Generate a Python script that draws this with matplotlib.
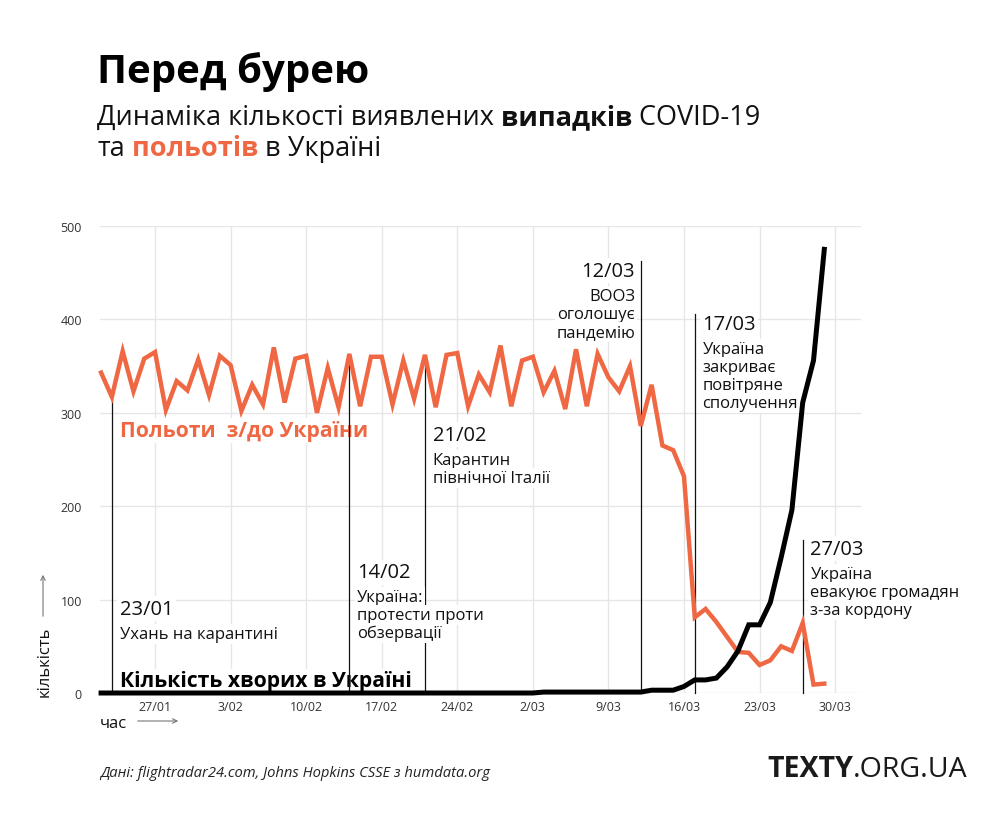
import matplotlib
matplotlib.use("Agg")
import matplotlib.pyplot as plt
import matplotlib.dates as mdates
import pandas as pd

plt.rcParams['font.family'] = ['Open Sans', 'DejaVu Sans']

ORANGE = '#EF6843'
W, H = 1000, 829

# Data
dates = pd.date_range('2020-01-22', '2020-03-29', freq='D')
flights = [343, 317, 366, 323, 358, 365, 303, 334, 324, 357,
           319, 361, 351, 302, 330, 309, 370, 311, 358, 361,
           300, 348, 306, 363, 307, 360, 360, 309, 356, 315,
           362, 306, 362, 364, 307, 341, 322, 372, 307,
           356, 360, 322, 345, 304, 368, 307, 363, 338, 323,
           350, 286, 330, 265, 260, 232, 81, 90, 76, 60,
           44, 43, 30, 35, 50, 45, 75, 9, 10]
cases = [0, 0, 0, 0, 0, 0, 0, 0, 0, 0,
         0, 0, 0, 0, 0, 0, 0, 0, 0, 0,
         0, 0, 0, 0, 0, 0, 0, 0, 0, 0,
         0, 0, 0, 0, 0, 0, 0, 0, 0,
         0, 0, 1, 1, 1, 1, 1, 1, 1, 1,
         1, 1, 3, 3, 3, 7, 14, 14, 16, 28,
         45, 73, 73, 97, 145, 196, 311, 356, 475]

tick_dates = pd.to_datetime(['2020-01-27', '2020-02-03', '2020-02-10', '2020-02-17',
                             '2020-02-24', '2020-03-02', '2020-03-09', '2020-03-16',
                             '2020-03-23', '2020-03-30'])
tick_labels = ['27/01', '3/02', '10/02', '17/02', '24/02', '2/03', '9/03', '16/03',
               '23/03', '30/03']
y_ticks = [0, 100, 200, 300, 400, 500]

event_dates = ['2020-01-23', '2020-02-14', '2020-02-21', '2020-03-12', '2020-03-17', '2020-03-27']
event_titles = ['23/01', '14/02', '21/02', '12/03', '17/03', '27/03']
event_texts = [['Ухань на карантині'],
               ['Україна:', 'протести проти', 'обзервації'],
               ['Карантин', 'північної Італії'],
               ['ВООЗ', 'оголошує', 'пандемію'],
               ['Україна', 'закриває', 'повітряне', 'сполучення'],
               ['Україна', 'евакуює громадян', 'з-за кордону']]

# layout of events: line top (None = on the flights curve), title baseline, side
event_layout = [(None, 85, 'left'), (None, 124, 'left'), (None, 271, 'left'),
                (462, 447, 'right'), (406, 390, 'left'), (164, 149, 'left')]

x = mdates.date2num(dates)

fig = plt.figure(figsize=(W / 100, H / 100), dpi=100)
ax = fig.add_axes([100 / W, 135 / H, 761 / W, 467 / H])

ax.plot(x, flights, color=ORANGE, lw=3.2, zorder=4, clip_on=False,
        solid_joinstyle='miter')
ax.plot(x, cases, color='black', lw=3.6, zorder=5, clip_on=False,
        solid_joinstyle='miter')

ax.set_xlim(x[0] - 0.1, x[0] + 70.4)
ax.set_ylim(0, 500)
ax.set_xticks(mdates.date2num(tick_dates))
ax.set_xticklabels(tick_labels)
ax.set_yticks(y_ticks)
ax.tick_params(length=0, labelsize=9, labelcolor='#333333')
ax.tick_params(axis='y', pad=13)
ax.tick_params(axis='x', pad=5)
ax.grid(True, color='#e6e6e6', lw=1)
ax.set_axisbelow(True)
for s in ax.spines.values():
    s.set_visible(False)

box = dict(boxstyle='square,pad=0.12', fc='white', ec='none')

flight_at = dict(zip(dates, flights))
for d, title, body, (top, ty, side) in zip(event_dates, event_titles, event_texts, event_layout):
    d = pd.Timestamp(d)
    xe = mdates.date2num(d)
    if top is None:
        top = flight_at[d]
    ax.plot([xe, xe], [0, top], color='#111111', lw=0.9, zorder=2, clip_on=False)
    dx = 5.5 if side == 'left' else -4
    ax.annotate(title, xy=(xe, ty), xytext=(dx, 0), textcoords='offset points',
                ha=side, va='baseline', fontsize=14.5, color='#111111',
                zorder=3, bbox=box, annotation_clip=False)
    for i, line in enumerate(body):
        ax.annotate(line, xy=(xe, ty), xytext=(dx, -17.3 - 13 * i),
                    textcoords='offset points', ha=side, va='baseline',
                    fontsize=12, color='#111111', zorder=3, bbox=box,
                    annotation_clip=False)

lbox = dict(boxstyle='square,pad=0.08', fc='white', ec='none')
ax.annotate('Польоти  з/до України', xy=(x[1], 275), xytext=(5.5, 0),
            textcoords='offset points', ha='left', va='baseline', fontsize=15.2,
            fontweight='bold', color=ORANGE, zorder=1.5, bbox=lbox)
ax.annotate('Кількість хворих в Україні', xy=(x[1], 7), xytext=(5.5, 0),
            textcoords='offset points', ha='left', va='baseline', fontsize=15.2,
            fontweight='bold', color='black', zorder=1.5, bbox=lbox)


def fx(px):
    return px / W


def fy(py):
    return 1 - py / H


# axis captions with arrows
fig.text(fx(45), fy(697), 'кількість', rotation=90, ha='center', va='bottom',
         fontsize=12, color='#111111')
fig.text(fx(100), fy(728), 'час', ha='left', va='baseline', fontsize=12,
         color='#111111')
arrow = dict(arrowstyle='->', lw=0.8, color='#777777', mutation_scale=8)
ax.annotate('', xy=(fx(43), fy(573)), xytext=(fx(43), fy(620)),
            xycoords='figure fraction', textcoords='figure fraction', arrowprops=arrow)
ax.annotate('', xy=(fx(181), fy(722)), xytext=(fx(135), fy(722)),
            xycoords='figure fraction', textcoords='figure fraction', arrowprops=arrow)

renderer = fig.canvas.get_renderer()


def rich_line(px, py, parts, size):
    cur = px
    for s, weight, color in parts:
        t = fig.text(fx(cur), fy(py), s, fontsize=size, fontweight=weight,
                     color=color, ha='left', va='baseline')
        bb = t.get_window_extent(renderer)
        cur += bb.width


fig.text(fx(97), fy(83), 'Перед бурею', fontsize=29, fontweight='bold',
         color='black', ha='left', va='baseline')
rich_line(97, 125, [('Динаміка кількості виявлених', 'normal', '#111111'),
                    (' випадків', 'bold', '#111111'),
                    (' COVID-19', 'normal', '#111111')], 19.5)
rich_line(97, 156, [('та', 'normal', '#111111'),
                    (' польотів', 'bold', ORANGE),
                    (' в Україні', 'normal', '#111111')], 19.5)

fig.text(fx(100), fy(777), 'Дані: flightradar24.com, Johns Hopkins CSSE з humdata.org',
         fontsize=10.6, style='italic', color='#222222', ha='left', va='baseline')
rich_line(767, 777, [('TEXTY', 'bold', '#1a1a1a'),
                     ('.ORG.UA', 'normal', '#1a1a1a')], 20.5)

fig.savefig('out.png', dpi=100, facecolor='white')
